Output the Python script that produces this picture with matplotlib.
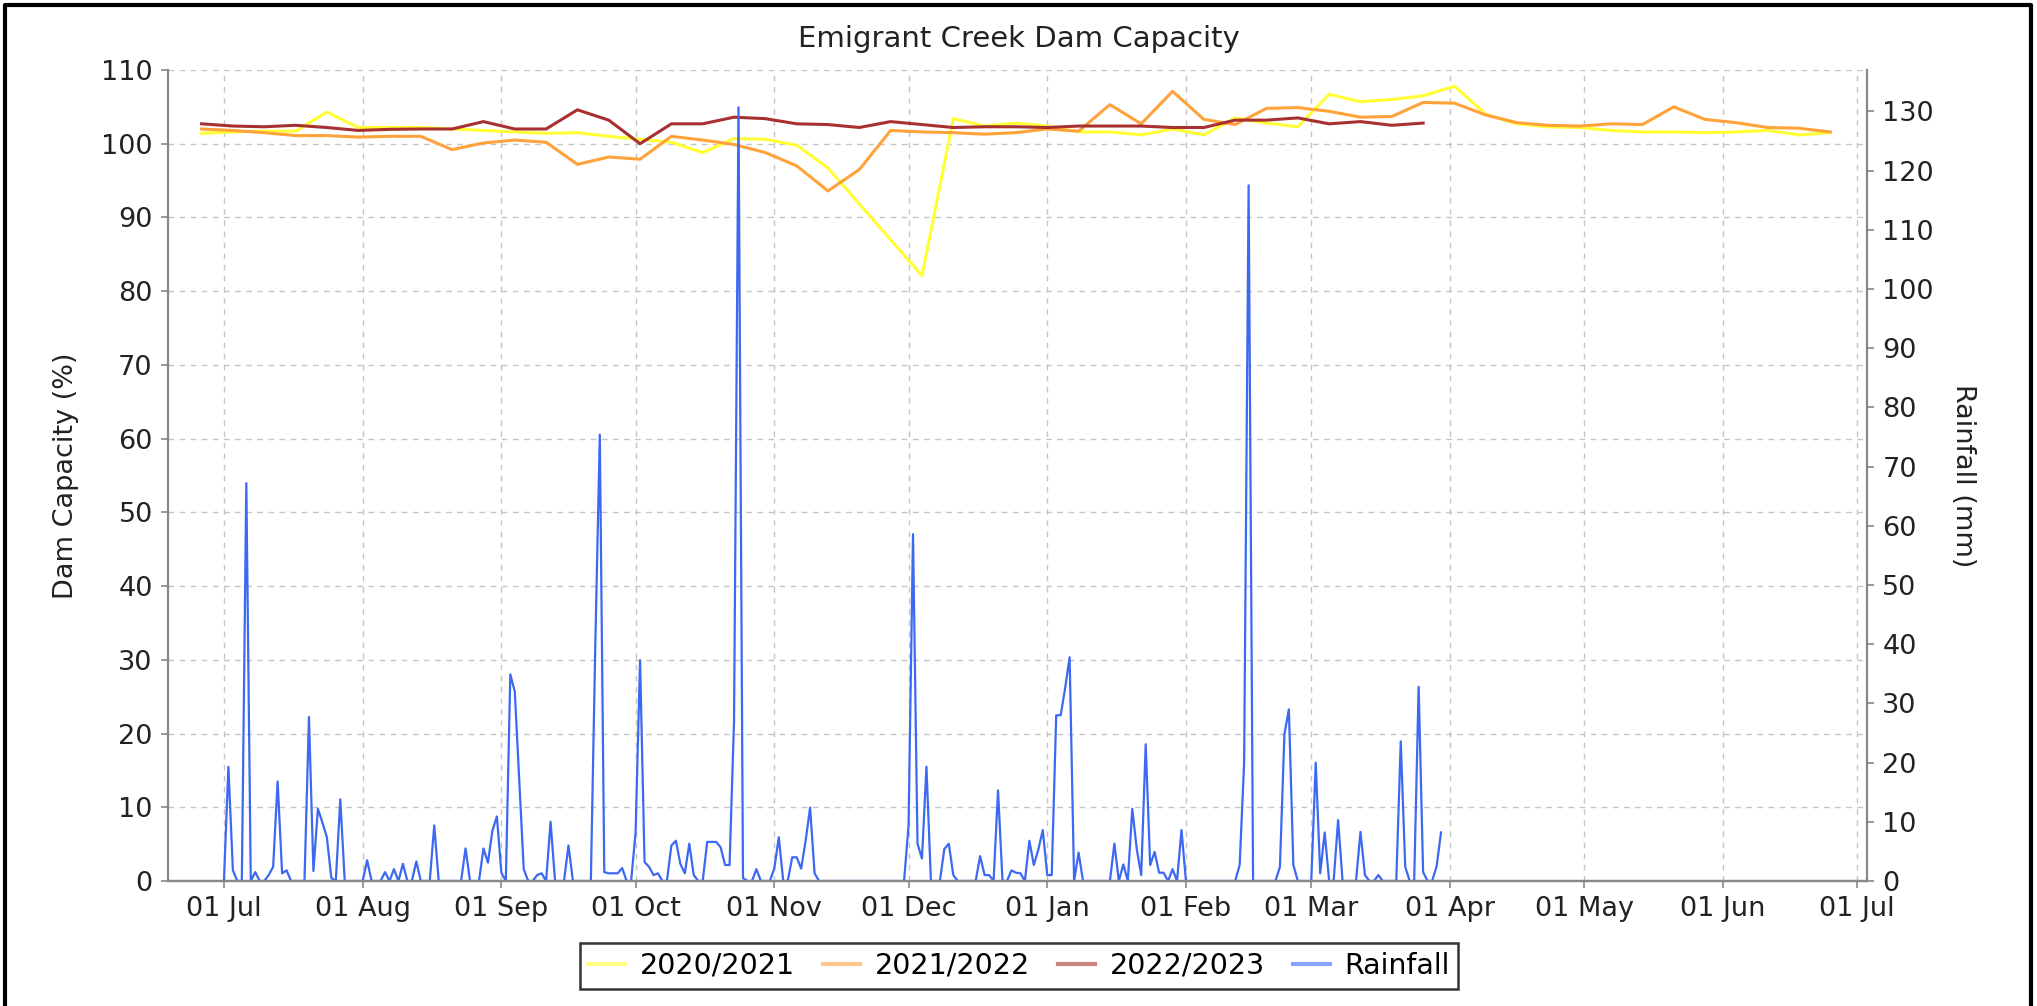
import numpy as np
import pandas as pd
import matplotlib
matplotlib.use("Agg")
import matplotlib.pyplot as plt
import matplotlib.dates as mdates
from matplotlib.lines import Line2D

# weekly dam capacity (%) - one reading per week, season aligned on a common year
week_start = "2022-06-26"
cap_2020_21 = [101.4, 101.6, 101.7, 101.7, 104.3, 102.2, 102.2, 102.2, 102.0, 101.8, 101.6, 101.4, 101.5, 101.0,
               100.6, 100.2, 98.8, 100.7, 100.6, 99.8, 96.7, None, None, 82.1, 103.4, 102.4, 102.8,
               102.4, 101.6, 101.6, 101.2, 102.0, 101.2, 103.5, 102.8, 102.3, 106.7, 105.7, 106.0, 106.5, 107.8,
               104.0, 102.7, 102.3, 102.2, 101.8, 101.6, 101.6, 101.5, 101.6, 101.8, 101.2, 101.5]
cap_2021_22 = [102.0, 101.8, 101.5, 101.1, 101.1, 100.9, 101.0, 101.0, 99.2, 100.1, 100.5, 100.2, 97.2, 98.2,
               97.9, 101.0, 100.5, 99.9, 98.8, 97.0, 93.6, 96.5, 101.8, 101.6, 101.5, 101.3, 101.5,
               102.0, 101.7, 105.3, 102.7, 107.1, 103.3, 102.6, 104.8, 104.9, 104.4, 103.6, 103.7, 105.6, 105.5,
               103.9, 102.85, 102.5, 102.4, 102.7, 102.6, 105.0, 103.3, 102.85, 102.2, 102.1, 101.6]
cap_2022_23 = [102.7, 102.4, 102.3, 102.5, 102.2, 101.8, 101.95, 102.0, 102.0, 103.0, 102.0, 102.0, 104.6, 103.2,
               100.0, 102.7, 102.7, 103.6, 103.4, 102.7, 102.6, 102.2, 103.0, 102.6, 102.2, 102.3, 102.3,
               102.2, 102.4, 102.4, 102.4, 102.2, 102.2, 103.2, 103.2, 103.5, 102.7, 103.0, 102.5, 102.8]

# daily rainfall (mm) from 01 Jul
rain_start = "2022-07-01"
rain_mm = [0, 19.3, 1.8, 0, 0, 67.2, 0, 1.5, 0, 0, 1.0, 2.4, 16.8, 1.3, 1.8,
           0, 0, 0, 0, 27.7, 1.7, 12.2, 9.9, 7.4, 0.5, 0, 13.8, 0, 0, 0,
           0, 0, 3.5, 0, 0, 0, 1.5, 0, 2.0, 0, 2.9, 0, 0, 3.3, 0,
           0, 0, 9.4, 0, 0, 0, 0, 0, 0, 5.5, 0, 0, 0, 5.5, 3.1,
           8.5, 10.9, 1.4, 0, 34.9, 32.0, 17.0, 2.0, 0, 0, 1.0, 1.3, 0, 10.0, 0,
           0, 0, 6.0, 0, 0, 0, 0, 0, 40.0, 75.4, 1.5, 1.3, 1.3, 1.3, 2.2,
           0, 0, 8.2, 37.3, 3.2, 2.4, 1.0, 1.3, 0, 0, 6.0, 6.8, 2.9, 1.3, 6.3,
           1.0, 0, 0, 6.6, 6.6, 6.6, 5.7, 2.7, 2.7, 27.0, 130.7, 0.5, 0, 0, 2.0,
           0, 0, 0, 2.1, 7.4, 0, 0, 4.0, 4.0, 2.1, 6.8, 12.4, 1.3, 0, 0,
           0, 0, 0, 0, 0, 0, 0, 0, 0, 0, 0, 0, 0, 0, 0,
           0, 0, 0, 9.3, 58.6, 6.3, 3.8, 19.3, 0, 0, 0, 5.4, 6.3, 1.0, 0,
           0, 0, 0, 0, 4.2, 1.0, 1.0, 0, 15.3, 0, 0, 1.8, 1.4, 1.3, 0,
           6.8, 2.7, 5.3, 8.6, 1.0, 1.0, 28.0, 28.0, 32.6, 37.8, 0, 4.8, 0, 0, 0,
           0, 0, 0, 0, 6.3, 0, 2.8, 0, 12.2, 5.4, 1.0, 23.1, 2.7, 4.9, 1.4,
           1.4, 0, 2.0, 0, 8.6, 0, 0, 0, 0, 0, 0, 0, 0, 0, 0,
           0, 0, 2.7, 20.0, 117.5, 0, 0, 0, 0, 0, 0, 2.4, 24.8, 29.0, 2.7,
           0, 0, 0, 0, 20.0, 1.3, 8.2, 0, 0, 10.3, 0, 0, 0, 0, 8.3,
           1.0, 0, 0, 1.0, 0, 0, 0, 0, 23.6, 2.4, 0, 0, 32.8, 1.5, 0,
           0, 2.4, 8.2]

series_names = ["2020/2021", "2021/2022", "2022/2023", "Rainfall"]
series_colors = ["#ffff33", "#ffa23a", "#a83030", "#3d68f2"]

plt.rcParams['font.family'] = 'DejaVu Sans'
fs = 19.5

fig = plt.figure(figsize=(20.37, 10.06), dpi=100)
ax1 = fig.add_axes([168 / 2037, 1 - 881 / 1006, (1867 - 168) / 2037, (881 - 70) / 1006])
ax2 = ax1.twinx()

weeks = pd.date_range(week_start, periods=53, freq="7D")
for vals, col, name in zip([cap_2020_21, cap_2021_22, cap_2022_23], series_colors[:3], series_names[:3]):
    d = [w for w, v in zip(weeks, vals) if v is not None]
    v = [v for v in vals if v is not None]
    ax1.plot(d, v, color=col, lw=2.2, label=name, solid_joinstyle='round')

days = pd.date_range(rain_start, periods=len(rain_mm), freq="D")
ax2.plot(days, rain_mm, color=series_colors[3], lw=1.6, label=series_names[3])

x0 = pd.Timestamp("2022-07-01") - pd.Timedelta(days=12.5)
x1 = pd.Timestamp("2022-07-01") + pd.Timedelta(days=367.2)
ax1.set_xlim(x0, x1)
ax1.set_ylim(0, 110)
ax1.set_yticks(np.arange(0, 111, 10))
ax2.set_ylim(0, 137)
ax2.set_yticks(np.arange(0, 131, 10))

ax1.xaxis.set_major_locator(mdates.MonthLocator())
ax1.xaxis.set_major_formatter(mdates.DateFormatter("%d %b"))

ax1.grid(True, color="#c4c4c4", linestyle=(0, (4, 4)), lw=1.0)
ax1.set_axisbelow(True)

spine_col = "#888888"
for ax in (ax1, ax2):
    ax.spines['top'].set_visible(False)
    for s in ('left', 'right', 'bottom'):
        ax.spines[s].set_color(spine_col)
        ax.spines[s].set_linewidth(1.6)
    ax.tick_params(axis='both', colors=spine_col, labelcolor='#222222', labelsize=fs,
                   length=5, width=1.2, direction='out', pad=6)
ax1.spines['right'].set_visible(False)
ax2.spines['left'].set_visible(False)

ax1.set_ylabel("Dam Capacity (%)", fontsize=fs, color='#222222', labelpad=16)
ax2.set_ylabel("Rainfall (mm)", fontsize=fs, color='#222222', rotation=-90, labelpad=30)
fig.text(0.5, 1 - 39 / 1006, "Emigrant Creek Dam Capacity", ha='center', va='center', fontsize=21, color='#222222')

handles = ax1.get_lines() + ax2.get_lines()
leg = fig.legend(handles, series_names, loc='center', bbox_to_anchor=(1019 / 2037, 1 - 966 / 1006),
                 ncol=4, fontsize=20.5, frameon=True, fancybox=False, handlelength=1.3,
                 handletextpad=0.5, columnspacing=1.0, borderpad=0.3)
leg.get_frame().set_edgecolor('black')
leg.get_frame().set_linewidth(1.8)
for h in leg.get_lines():
    h.set_linewidth(3)
    h.set_alpha(0.6)

# outer frame of the original screenshot (no bottom edge)
fig.add_artist(Line2D([4.5 / 2037, 4.5 / 2037, 2030.5 / 2037, 2030.5 / 2037],
                      [-0.05, 1 - 5 / 1006, 1 - 5 / 1006, -0.05],
                      transform=fig.transFigure, color='black', lw=3))

fig.savefig("out.png", dpi=100)
